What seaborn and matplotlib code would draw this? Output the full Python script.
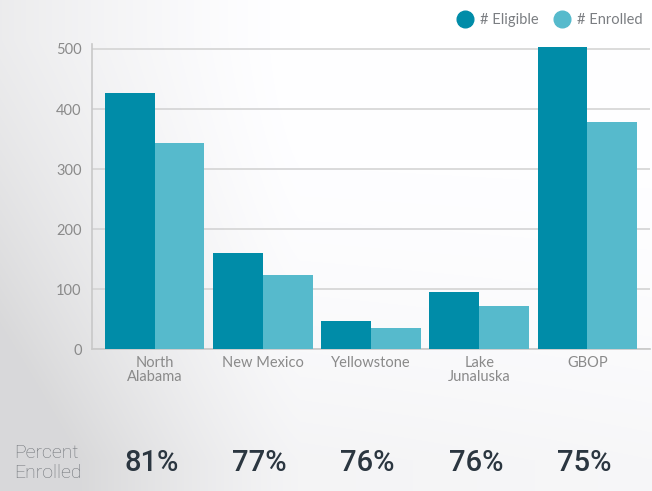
import numpy as np
import pandas as pd
import matplotlib
matplotlib.use("Agg")
import matplotlib.pyplot as plt
from matplotlib.lines import Line2D
import seaborn as sns

regions = ["North\nAlabama", "New Mexico", "Yellowstone", "Lake\nJunaluska", "GBOP"]
eligible = [426, 160, 46, 95, 504]
enrolled = [343, 123, 35, 72, 379]
series_names = ["# Eligible", "# Enrolled"]
colors = ["#008ca8", "#56bacc"]
yticks = [0, 100, 200, 300, 400, 500]

df = pd.DataFrame({
    "region": regions * 2,
    "count": eligible + enrolled,
    "series": [series_names[0]] * len(regions) + [series_names[1]] * len(regions),
})
pct = [round(100 * b / a) for a, b in zip(eligible, enrolled)]

sns.set_theme(style="white")
plt.rcParams["font.family"] = ["Lato", "DejaVu Sans"]

fig = plt.figure(figsize=(6.52, 4.91), dpi=100)

# soft grey backdrop fading to white towards the upper right
bg = fig.add_axes([0, 0, 1, 1], zorder=-10)
h, w = 491, 652
yy, xx = np.mgrid[0:h, 0:w]
fade_x = np.clip(1 - xx / 300.0, 0, 1) ** 1.3
fade_y = np.clip((yy - 40) / 420.0, 0, 1)
shade = 1 - 0.15 * np.clip(fade_x * (0.5 + 0.5 * fade_y) + 0.35 * fade_y ** 2 * (1 - 0.4 * xx / w), 0, 1)
bg.imshow(np.dstack([shade, shade, shade * 1.006]).clip(0, 1), aspect="auto",
          extent=[0, 1, 0, 1], origin="upper")
bg.axis("off")

ax = fig.add_axes([0.141, 0.289, 0.856, 0.621])
ax.patch.set_alpha(0)
sns.barplot(data=df, x="region", y="count", hue="series", palette=colors,
            width=0.92, gap=0, saturation=1, ax=ax, legend=False, zorder=3,
            linewidth=0)

ax.set_xlim(-0.58, 4.58)
ax.set_ylim(0, 508)
ax.set_yticks(yticks)
ax.yaxis.grid(True, color="#d4d4d4", linewidth=1.2, zorder=0)
ax.set_axisbelow(True)
ax.set_xlabel("")
ax.set_ylabel("")
for s in ["top", "right"]:
    ax.spines[s].set_visible(False)
for s in ["left", "bottom"]:
    ax.spines[s].set_color("#c8c8c8")
    ax.spines[s].set_linewidth(1.2)
ax.tick_params(axis="both", colors="#c8c8c8", labelcolor="#8a8a8a",
               labelsize=10.5, length=4, width=1, direction="out")
ax.tick_params(axis="x", pad=1)
for lbl in ax.get_xticklabels():
    lbl.set_linespacing(1.0)

# percent enrolled row
fig.text(0.022, 0.057, "Percent\nEnrolled", fontsize=14, color="#6f7378",
         family=["Roboto", "DejaVu Sans"], fontweight="light",
         ha="left", va="center", linespacing=1.1)
for i, p in enumerate(pct):
    xf = fig.transFigure.inverted().transform(ax.transData.transform((i, 0)))[0]
    fig.text(xf - 0.005, 0.057, f"{p}%", fontsize=21, color="#2b3640",
             family=["Roboto", "DejaVu Sans"], fontweight="medium",
             ha="center", va="center")

handles = [Line2D([], [], marker="o", linestyle="", markersize=12,
                  markerfacecolor=c, markeredgecolor=c) for c in colors]
fig.legend(handles, series_names, loc="upper right", bbox_to_anchor=(1.005, 1.0),
           ncol=2, frameon=False, fontsize=10.5, labelcolor="#7b7e82",
           handletextpad=0.4, columnspacing=1.0, handlelength=1.2)

fig.savefig("out.png", dpi=100)
